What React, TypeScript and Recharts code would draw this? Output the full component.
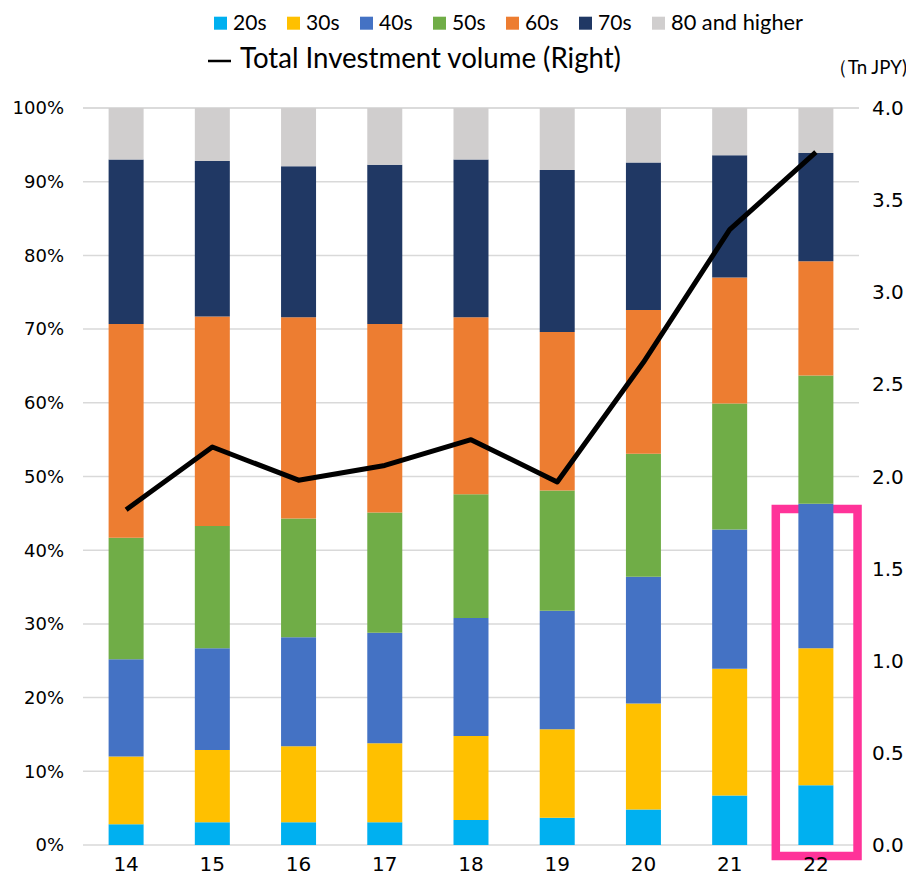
import React from "react";
import {
  ComposedChart,
  Bar,
  Line,
  XAxis,
  YAxis,
  CartesianGrid,
  Legend,
  ReferenceArea,
} from "recharts";

const years = ["14", "15", "16", "17", "18", "19", "20", "21", "22"];
const s20 = [2.8, 3.1, 3.1, 3.1, 3.4, 3.7, 4.8, 6.7, 8.1];
const s30 = [9.2, 9.8, 10.3, 10.7, 11.4, 12.0, 14.4, 17.2, 18.6];
const s40 = [13.2, 13.8, 14.8, 15.0, 16.0, 16.1, 17.2, 18.9, 19.6];
const s50 = [16.5, 16.6, 16.1, 16.3, 16.8, 16.3, 16.7, 17.1, 17.4];
const s60 = [29.0, 28.4, 27.3, 25.6, 24.0, 21.5, 19.5, 17.1, 15.5];
const s70 = [22.3, 21.1, 20.5, 21.6, 21.4, 22.0, 20.0, 16.6, 14.7];
const s80 = [7.0, 7.2, 7.9, 7.7, 7.0, 8.4, 7.4, 6.4, 6.1];
const total = [1.82, 2.16, 1.98, 2.06, 2.2, 1.97, 2.62, 3.34, 3.76];

const seriesKeys = ["s20", "s30", "s40", "s50", "s60", "s70", "s80"];
const seriesNames = ["20s", "30s", "40s", "50s", "60s", "70s", "80 and higher"];
const seriesColors = ["#00B0F0", "#FFC000", "#4472C4", "#70AD47", "#ED7D31", "#203864", "#D0CECE"];
const seriesValues = [s20, s30, s40, s50, s60, s70, s80];
const leftTicks = [0, 10, 20, 30, 40, 50, 60, 70, 80, 90, 100];
const rightTicks = [0, 0.5, 1, 1.5, 2, 2.5, 3, 3.5, 4];
const lineName = "Total Investment volume (Right)";
const unitLabel = "（Tn JPY)";

// highlight box around the latest year (in index / percent units)
const highlightX = [7.535, 8.483];
const highlightY = [-1.5, 45.6];

const data = years.map((y, i) => {
  const row: Record<string, number | string> = { year: y, idx: i, total: total[i] };
  seriesKeys.forEach((k, j) => {
    row[k] = seriesValues[j][i];
  });
  return row;
});

const legendFont = "Lato, 'Open Sans', 'Noto Sans', sans-serif";
const tickFont = "'DejaVu Sans', Verdana, sans-serif";

const LegendContent = () => (
  <svg width={906} height={100} style={{ display: "block", overflow: "visible" }}>
    {seriesNames.map((n, i) => {
      const x0 = 206 + i * 73;
      return (
        <g key={n}>
          <rect x={x0} y={8.7} width={13} height={13} fill={seriesColors[i]} />
          <text
            x={x0 + 19}
            y={21.5}
            fontSize={22}
            fontFamily={legendFont}
            fill="#000"
            textLength={i === 6 ? 132 : 33.5}
            lengthAdjust="spacingAndGlyphs"
          >
            {n}
          </text>
        </g>
      );
    })}
    <line x1={200} x2={223} y1={53} y2={53} stroke="#000" strokeWidth={2.5} />
    <text
      x={232}
      y={60.3}
      fontSize={29}
      fontFamily={legendFont}
      fill="#000"
      textLength={381}
      lengthAdjust="spacingAndGlyphs"
    >
      {lineName}
    </text>
    <text
      x={821}
      y={66}
      fontSize={20}
      fontFamily={legendFont}
      fill="#000"
      textLength={78}
      lengthAdjust="spacingAndGlyphs"
    >
      {unitLabel}
    </text>
  </svg>
);

export default function App() {
  return (
    <div style={{ width: 906, height: 868 }}>
      <ComposedChart
        width={906}
        height={868}
        data={data}
        margin={{ top: 0, right: 0, bottom: 0, left: 0 }}
        barCategoryGap="29.7%"
      >
        <Legend
          verticalAlign="top"
          align="left"
          content={LegendContent}
          wrapperStyle={{ top: 0, left: 0, width: 906, height: 100 }}
        />
        <CartesianGrid
          yAxisId="left"
          vertical={false}
          stroke="#D9D9D9"
          strokeWidth={1.5}
        />
        <XAxis
          dataKey="year"
          height={31}
          tickLine={false}
          axisLine={false}
          tickSize={0}
          tickMargin={12}
          tick={{ fontSize: 20, fontFamily: tickFont, fill: "#000" }}
          interval={0}
        />
        <XAxis xAxisId="idx" dataKey="idx" type="number" domain={[-0.5, 8.5]} hide />
        <YAxis
          yAxisId="left"
          domain={[0, 100]}
          ticks={leftTicks}
          tickFormatter={(v: number) => `${v}%`}
          width={75}
          tickLine={false}
          axisLine={false}
          tickSize={0}
          tickMargin={19}
          tick={{ fontSize: 18, fontFamily: tickFont, fill: "#000" }}
          interval={0}
        />
        <YAxis
          yAxisId="right"
          orientation="right"
          domain={[0, 4]}
          ticks={rightTicks}
          tickFormatter={(v: number) => v.toFixed(1)}
          width={55}
          tickLine={false}
          axisLine={false}
          tickSize={0}
          tickMargin={13}
          tick={{ fontSize: 20, fontFamily: tickFont, fill: "#000", textAnchor: "start" }}
          interval={0}
        />
        {seriesKeys.map((k, i) => (
          <Bar
            key={k}
            dataKey={k}
            name={seriesNames[i]}
            stackId="a"
            yAxisId="left"
            fill={seriesColors[i]}
            isAnimationActive={false}
          />
        ))}
        <Line
          dataKey="total"
          name={lineName}
          yAxisId="right"
          type="linear"
          stroke="#000"
          strokeWidth={5}
          strokeLinejoin="round"
          dot={false}
          activeDot={false}
          isAnimationActive={false}
        />
        <ReferenceArea
          xAxisId="idx"
          yAxisId="left"
          x1={highlightX[0]}
          x2={highlightX[1]}
          y1={highlightY[0]}
          y2={highlightY[1]}
          fill="none"
          fillOpacity={0}
          stroke="#FF3399"
          strokeWidth={8.5}
          ifOverflow="visible"
        />
      </ComposedChart>
    </div>
  );
}
